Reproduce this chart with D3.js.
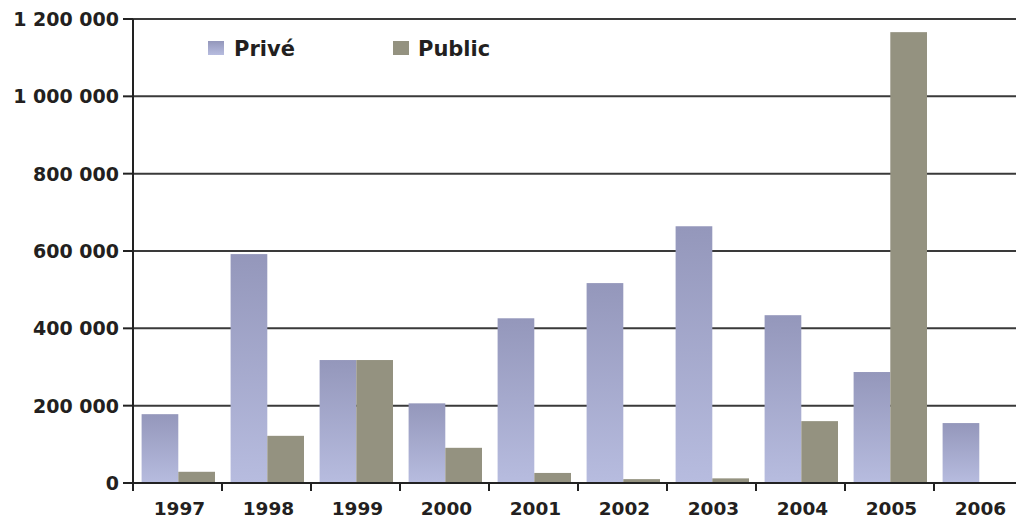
<!DOCTYPE html>
<html>
<head>
<meta charset="utf-8">
<script src="https://cdn.jsdelivr.net/npm/d3@7"></script>
<style>
  html, body { margin: 0; padding: 0; background: #fff; }
  svg { display: block; }
  text { font-family: "DejaVu Sans", sans-serif; font-weight: bold; fill: #231f20; }
</style>
</head>
<body>
<svg id="chart" width="1016" height="519"></svg>
<script>
// Yearly amounts, private vs public
const years = ["1997", "1998", "1999", "2000", "2001", "2002", "2003", "2004", "2005", "2006"];
const seriesNames = ["Privé", "Public"];
const prive  = [178000, 592000, 318000, 206000, 426000, 517000, 664000, 434000, 287000, 155000];
const public_ = [29000, 122000, 318000, 91000, 26000, 10000, 12000, 160000, 1166000, 0];
const yTicks = [0, 200000, 400000, 600000, 800000, 1000000, 1200000];

const svg = d3.select("#chart");
const W = 1016;
const plotLeft = 133, plotRight = 1023, plotTop = 19, plotBottom = 483;

const x = d3.scaleBand().domain(years).range([plotLeft, plotRight]).paddingInner(0).paddingOuter(0);
const xs = d3.scaleBand().domain(seriesNames).range([8.6, 82]);
const y = d3.scaleLinear().domain([0, 1200000]).range([plotBottom, plotTop]);

const fmt = v => d3.format(",")(v).replace(/,/g, " ");

// Gradient for the private series
const defs = svg.append("defs");
const g = defs.append("linearGradient").attr("id", "priveGrad")
  .attr("x1", 0).attr("y1", 0).attr("x2", 0).attr("y2", 1);
g.append("stop").attr("offset", "0%").attr("stop-color", "#9497bb");
g.append("stop").attr("offset", "100%").attr("stop-color", "#b7bcdf");

// Horizontal gridlines
svg.append("g").selectAll("line").data(yTicks.filter(t => t > 0)).join("line")
  .attr("x1", plotLeft).attr("x2", W)
  .attr("y1", d => y(d)).attr("y2", d => y(d))
  .attr("stroke", "#3a3a3a").attr("stroke-width", 2);

// Bars
const rows = years.map((yr, i) => ({ year: yr, values: [
  { key: "Privé", value: prive[i] },
  { key: "Public", value: public_[i] }
]}));

svg.append("g").selectAll("g").data(rows).join("g")
  .attr("transform", d => `translate(${x(d.year)},0)`)
  .selectAll("rect").data(d => d.values).join("rect")
  .attr("x", d => xs(d.key))
  .attr("width", xs.bandwidth())
  .attr("y", d => y(d.value))
  .attr("height", d => y(0) - y(d.value))
  .attr("fill", d => d.key === "Privé" ? "url(#priveGrad)" : "#949280");

// X axis baseline, tick marks between years, and year labels
const gx = svg.append("g").attr("transform", `translate(0,${plotBottom})`);
gx.append("line").attr("x1", plotLeft).attr("x2", W).attr("y1", 0).attr("y2", 0)
  .attr("stroke", "#222").attr("stroke-width", 2);
gx.selectAll("line.tk").data(years.map(yv => x(yv)).concat([plotRight])).join("line")
  .attr("class", "tk")
  .attr("x1", d => d).attr("x2", d => d).attr("y1", 0).attr("y2", 8)
  .attr("stroke", "#222").attr("stroke-width", 2);
gx.selectAll("text").data(years).join("text")
  .attr("x", d => x(d) + x.bandwidth() / 2 + 2)
  .attr("y", 32)
  .attr("text-anchor", "middle")
  .attr("font-size", 18.5)
  .text(d => d);

// Y axis
const gy = svg.append("g").attr("transform", `translate(${plotLeft},0)`);
gy.append("line").attr("x1", 0).attr("x2", 0).attr("y1", plotTop).attr("y2", plotBottom + 8)
  .attr("stroke", "#222").attr("stroke-width", 2);
gy.selectAll("line.tk").data(yTicks).join("line").attr("class", "tk")
  .attr("x1", -10).attr("x2", 0).attr("y1", d => y(d)).attr("y2", d => y(d))
  .attr("stroke", "#222").attr("stroke-width", 2);
gy.selectAll("text").data(yTicks).join("text")
  .attr("x", -14).attr("y", d => y(d)).attr("dy", "0.36em")
  .attr("text-anchor", "end")
  .attr("font-size", 19)
  .text(d => fmt(d));

// Legend
const legend = svg.append("g");
const legendPos = [{ sx: 208, tx: 234 }, { sx: 393, tx: 418 }];
seriesNames.forEach((name, i) => {
  legend.append("rect").attr("x", legendPos[i].sx).attr("y", 41).attr("width", 16).attr("height", 14)
    .attr("fill", i === 0 ? "url(#priveGrad)" : "#949280");
  legend.append("text").attr("x", legendPos[i].tx).attr("y", 55.5)
    .attr("font-size", 21).text(name);
});
</script>
</body>
</html>
